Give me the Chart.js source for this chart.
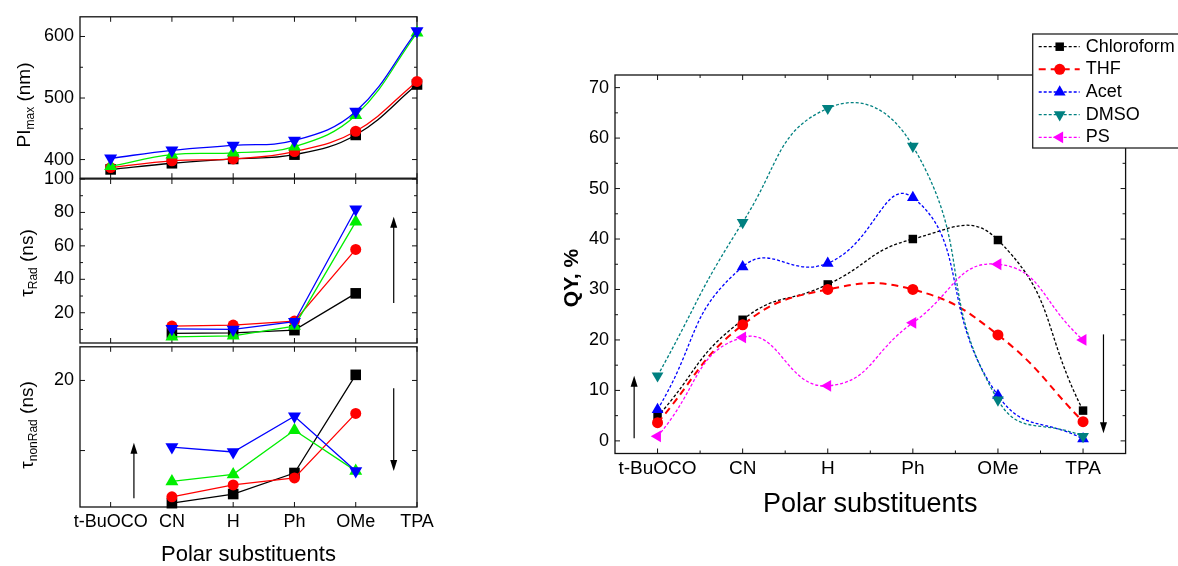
<!DOCTYPE html>
<html>
<head>
<meta charset="utf-8">
<script src="https://cdn.jsdelivr.net/npm/chart.js@4.4.1/dist/chart.umd.min.js"></script>
<style>
  body { margin: 0; background: #fff; }
  #wrap { position: relative; width: 1178px; height: 566px; overflow: hidden; background: #fff; }
  canvas { position: absolute; }
</style>
</head>
<body>
<div id="wrap">
  <canvas id="plChart" width="440" height="195" style="left:0;top:0"></canvas>
  <canvas id="radChart" width="440" height="200" style="left:0;top:160px"></canvas>
  <canvas id="nonRadChart" width="440" height="236" style="left:0;top:330px"></canvas>
  <canvas id="qyChart" width="618" height="566" style="left:560px;top:0"></canvas>
</div>
<script>
// categorias do eixo x (comuns aos dois painéis)
const substituents = ['t-BuOCO', 'CN', 'H', 'Ph', 'OMe', 'TPA'];

// painel superior: PI max (nm)
const plBlack = [384, 394, 401, 408, 440, 522];
const plRed   = [387, 398, 401, 413, 446, 527];
const plGreen = [389, 408, 411, 421, 472, 606];
const plBlue  = [402, 415, 423, 431, 478, 609];
const plTicks = [400, 500, 600];

// painel do meio: tau Rad (ns)
const radBlack = [null, 7.7, 8.0, 9.6, 31.6, null];
const radRed   = [null, 12.0, 12.6, 15.0, 57.9, null];
const radGreen = [null, 5.6, 6.2, 12.0, 74.4, null];
const radBlue  = [null, 10.4, 10.0, 14.6, 81.9, null];
const radTicks = [20, 40, 60, 80, 100];

// painel inferior: tau nonRad (ns)
const nonRadBlack = [null, 2.5, 3.8, 6.8, 20.8, null];
const nonRadRed   = [null, 3.4, 5.1, 6.1, 15.3, null];
const nonRadGreen = [null, 5.6, 6.6, 12.9, 7.1, null];
const nonRadBlue  = [null, 10.5, 9.8, 14.9, 7.1, null];
const nonRadTicks = [10, 20];
const nonRadTickLabels = ['', '20'];

// painel da direita: QY, %
const qyChloroform = [4.8, 24, 31, 40, 39.8, 6];
const qyThf        = [3.6, 23, 30, 30, 21, 3.8];
const qyAcet       = [6.2, 34.5, 35.2, 48.2, 9, 0.4];
const qyDmso       = [12.9, 43.3, 65.9, 58.4, 8.1, 0.9];
const qyPs         = [0.9, 20.5, 10.9, 23.4, 35, 20];
const qyTicks = [0, 10, 20, 30, 40, 50, 60, 70];

// setas (em unidades dos dados)
const radArrows = [{ x: 4.62, from: 25.8, to: 77.4 }];
const nonRadArrows = [{ x: 0.38, from: 3.2, to: 11.1 }, { x: 4.62, from: 18.9, to: 7.1 }];
const qyArrows = [{ x: -0.275, from: 0.5, to: 12.9 }, { x: 5.24, from: 21.1, to: 1.5 }];

const FONT = "'Liberation Sans', Arial, sans-serif";
Chart.defaults.font.family = FONT;
Chart.defaults.color = '#000';
Chart.defaults.animation = false;

const toPoints = arr => arr.map((v, i) => ({ x: i, y: v }));

// moldura com ticks para dentro (estilo Origin)
function frame(xMinor, yMinor) {
  const minors = (vals, scale) => {
    const out = [];
    const step = vals[1] - vals[0];
    for (let v = vals[0] - step / 2; v <= vals[vals.length - 1] + step / 2; v += step) {
      if (v > scale.min && v < scale.max) out.push(v);
    }
    return out;
  };
  return {
    id: 'frame',
    beforeDatasetsDraw(chart) {
      const { ctx, chartArea: a, scales: { x, y } } = chart;
      const xs = x.ticks.map(t => t.value);
      const ys = y.ticks.map(t => t.value);
      ctx.save();
      ctx.strokeStyle = '#111';
      ctx.lineWidth = 1.3;
      ctx.strokeRect(a.left, a.top, a.right - a.left, a.bottom - a.top);
      ctx.lineWidth = 1;
      ctx.beginPath();
      const xMark = (v, L) => {
        const p = x.getPixelForValue(v);
        ctx.moveTo(p, a.bottom); ctx.lineTo(p, a.bottom - L);
        ctx.moveTo(p, a.top); ctx.lineTo(p, a.top + L);
      };
      const yMark = (v, L) => {
        const p = y.getPixelForValue(v);
        ctx.moveTo(a.left, p); ctx.lineTo(a.left + L, p);
        ctx.moveTo(a.right, p); ctx.lineTo(a.right - L, p);
      };
      xs.forEach(v => xMark(v, 5));
      ys.forEach(v => yMark(v, 5));
      if (xMinor) minors(xs, x).forEach(v => xMark(v, 3));
      if (yMinor) minors(ys, y).forEach(v => yMark(v, 3));
      ctx.stroke();
      ctx.restore();
    }
  };
}

function arrows(list) {
  return {
    id: 'arrows',
    afterDatasetsDraw(chart) {
      const { ctx, scales: { x, y } } = chart;
      ctx.save();
      ctx.strokeStyle = '#000';
      ctx.fillStyle = '#000';
      ctx.lineWidth = 1.2;
      list.forEach(a => {
        const px = x.getPixelForValue(a.x);
        const y0 = y.getPixelForValue(a.from);
        const y1 = y.getPixelForValue(a.to);
        const dir = Math.sign(y1 - y0);
        ctx.beginPath();
        ctx.moveTo(px, y0);
        ctx.lineTo(px, y1 - dir * 8);
        ctx.stroke();
        ctx.beginPath();
        ctx.moveTo(px, y1);
        ctx.lineTo(px - 3.5, y1 - dir * 11);
        ctx.lineTo(px + 3.5, y1 - dir * 11);
        ctx.closePath();
        ctx.fill();
      });
      ctx.restore();
    }
  };
}

// título do eixo y com subscrito
function yTitle(parts, cx, cy) {
  return {
    id: 'yTitle',
    afterDraw(chart) {
      const ctx = chart.ctx;
      ctx.save();
      ctx.translate(cx, cy);
      ctx.rotate(-Math.PI / 2);
      ctx.fillStyle = '#000';
      ctx.textBaseline = 'middle';
      ctx.textAlign = 'left';
      let total = 0;
      const widths = parts.map(p => {
        ctx.font = p.font;
        const w = ctx.measureText(p.text).width;
        total += w;
        return w;
      });
      let px = -total / 2;
      parts.forEach((p, i) => {
        ctx.font = p.font;
        ctx.fillText(p.text, px, p.dy || 0);
        px += widths[i];
      });
      ctx.restore();
    }
  };
}

function xScale(max, height, showLabels, title, fontSize) {
  return {
    type: 'linear',
    min: -0.5,
    max: max,
    afterBuildTicks: s => { s.ticks = substituents.map((_, i) => ({ value: i })); },
    afterFit: s => { s.height = height; },
    ticks: {
      display: showLabels,
      autoSkip: false,
      maxRotation: 0,
      padding: 4,
      font: { size: fontSize || 18 },
      callback: v => substituents[v]
    },
    grid: { display: false, drawTicks: false },
    border: { display: false },
    title: title || { display: false }
  };
}

function yScale(min, max, ticks, width, labels, fontSize) {
  return {
    type: 'linear',
    min: min,
    max: max,
    afterBuildTicks: s => { s.ticks = ticks.map(v => ({ value: v })); },
    afterFit: s => { s.width = width; },
    ticks: {
      padding: 6,
      font: { size: fontSize || 18 },
      callback: (v, i) => labels ? labels[i] : v
    },
    grid: { display: false, drawTicks: false },
    border: { display: false }
  };
}

function series(values, color, style, rot, radius, extra) {
  return Object.assign({
    data: toPoints(values),
    borderColor: color,
    backgroundColor: color,
    borderWidth: 1.3,
    pointStyle: style,
    pointRotation: rot,
    pointRadius: radius,
    pointHoverRadius: radius,
    pointBackgroundColor: color,
    pointBorderWidth: 0,
    clip: false
  }, extra || {});
}

function leftSet(b, r, g, bl, tension) {
  const ex = i => ({ tension: tension, order: 3 - i });
  return [
    series(b, '#000000', 'rect', 0, 7.5, ex(0)),
    series(r, '#ff0000', 'circle', 0, 5.5, ex(1)),
    series(g, '#00ee00', 'triangle', 0, 7.5, ex(2)),
    series(bl, '#0000ff', 'triangle', 180, 7.5, ex(3))
  ];
}

const baseOpts = (padding, scales) => ({
  responsive: false,
  devicePixelRatio: 1,
  animation: false,
  layout: { padding: padding, autoPadding: false },
  plugins: { legend: { display: false }, tooltip: { enabled: false } },
  events: [],
  scales: scales
});

const mainFont = '19px ' + FONT;
const subFont = '12px ' + FONT;

// painel superior
new Chart(document.getElementById('plChart'), {
  type: 'line',
  data: { datasets: leftSet(plBlack, plRed, plGreen, plBlue, 0.4) },
  options: baseOpts({ top: 15, right: 23, bottom: 16, left: 0 }, {
    x: xScale(5, 0, false),
    y: yScale(369.7, 632, plTicks, 80)
  }),
  plugins: [frame(false, true), yTitle([
    { text: 'PI', font: mainFont },
    { text: 'max', font: subFont, dy: 6 },
    { text: ' (nm)', font: mainFont }
  ], 25, 105)]
});

// painel do meio
new Chart(document.getElementById('radChart'), {
  type: 'line',
  data: { datasets: leftSet(radBlack, radRed, radGreen, radBlue, 0) },
  options: baseOpts({ top: 19, right: 23, bottom: 17, left: 0 }, {
    x: xScale(5, 0, false),
    y: yScale(1.9, 100, radTicks, 80)
  }),
  plugins: [frame(false, true), arrows(radArrows), yTitle([
    { text: 'τ', font: mainFont },
    { text: 'Rad', font: subFont, dy: 6 },
    { text: ' (ns)', font: mainFont }
  ], 28, 103)]
});

// painel inferior
new Chart(document.getElementById('nonRadChart'), {
  type: 'line',
  data: { datasets: leftSet(nonRadBlack, nonRadRed, nonRadGreen, nonRadBlue, 0) },
  options: baseOpts({ top: 13, right: 23, bottom: 0, left: 0 }, {
    x: xScale(5, 59, true, {
      display: true,
      text: 'Polar substituents',
      font: { size: 22, lineHeight: 1.05 },
      padding: { top: 0, bottom: 0 }
    }),
    y: yScale(1.95, 24.8, nonRadTicks, 80, nonRadTickLabels)
  }),
  plugins: [frame(false, false), arrows(nonRadArrows), yTitle([
    { text: 'τ', font: mainFont },
    { text: 'nonRad', font: subFont, dy: 6 },
    { text: ' (ns)', font: mainFont }
  ], 28, 95)]
});

// legenda do painel QY
const qyLegend = {
  id: 'qyLegend',
  afterDraw(chart) {
    const ctx = chart.ctx;
    const left = 472.7, top = 34, rowH = 22.65, firstRow = 46.7;
    ctx.save();
    ctx.fillStyle = '#fff';
    ctx.fillRect(left, top, 160, 114);
    ctx.strokeStyle = '#222';
    ctx.lineWidth = 1.3;
    ctx.strokeRect(left, top, 160, 114);
    chart.data.datasets.forEach((ds, i) => {
      const yy = firstRow + i * rowH;
      ctx.strokeStyle = ds.borderColor;
      ctx.lineWidth = ds.borderWidth;
      ctx.setLineDash(ds.borderDash || []);
      ctx.beginPath();
      ctx.moveTo(left + 6, yy);
      ctx.lineTo(left + 47, yy);
      ctx.stroke();
      ctx.setLineDash([]);
      ctx.fillStyle = ds.pointBackgroundColor;
      Chart.helpers.drawPoint(ctx, {
        pointStyle: ds.pointStyle,
        rotation: ds.pointRotation,
        radius: ds.pointRadius,
        borderWidth: 0
      }, left + 27, yy);
      ctx.fillStyle = '#000';
      ctx.font = '18px ' + FONT;
      ctx.textBaseline = 'middle';
      ctx.textAlign = 'left';
      ctx.fillText(ds.label, left + 53, yy);
    });
    ctx.restore();
  }
};

const dotted = { borderDash: [3, 2], tension: 0.5 };
new Chart(document.getElementById('qyChart'), {
  type: 'line',
  data: {
    datasets: [
      series(qyChloroform, '#000000', 'rect', 0, 6, Object.assign({ label: 'Chloroform', order: 5 }, dotted)),
      series(qyThf, '#ff0000', 'circle', 0, 5.5, { label: 'THF', order: 4, borderDash: [7, 5], borderWidth: 2, tension: 0.45 }),
      series(qyAcet, '#0000ff', 'triangle', 0, 6.8, Object.assign({ label: 'Acet', order: 3 }, dotted)),
      series(qyDmso, '#008080', 'triangle', 180, 6.8, Object.assign({ label: 'DMSO', order: 2 }, dotted)),
      series(qyPs, '#ff00ff', 'triangle', -90, 6.8, Object.assign({ label: 'PS', order: 1 }, dotted))
    ]
  },
  options: baseOpts({ top: 75, right: 52.4, bottom: 0, left: 0 }, {
    x: xScale(5.5, 112.5, true, {
      display: true,
      text: 'Polar substituents',
      font: { size: 27, lineHeight: 1.2 },
      padding: { top: 0, bottom: 45 }
    }, 19),
    y: yScale(-2.5, 72.5, qyTicks, 55, null, 18)
  }),
  plugins: [frame(true, true), arrows(qyArrows), qyLegend, yTitle([
    { text: 'QY, %', font: 'bold 21px ' + FONT }
  ], 12, 278)]
});
</script>
</body>
</html>
